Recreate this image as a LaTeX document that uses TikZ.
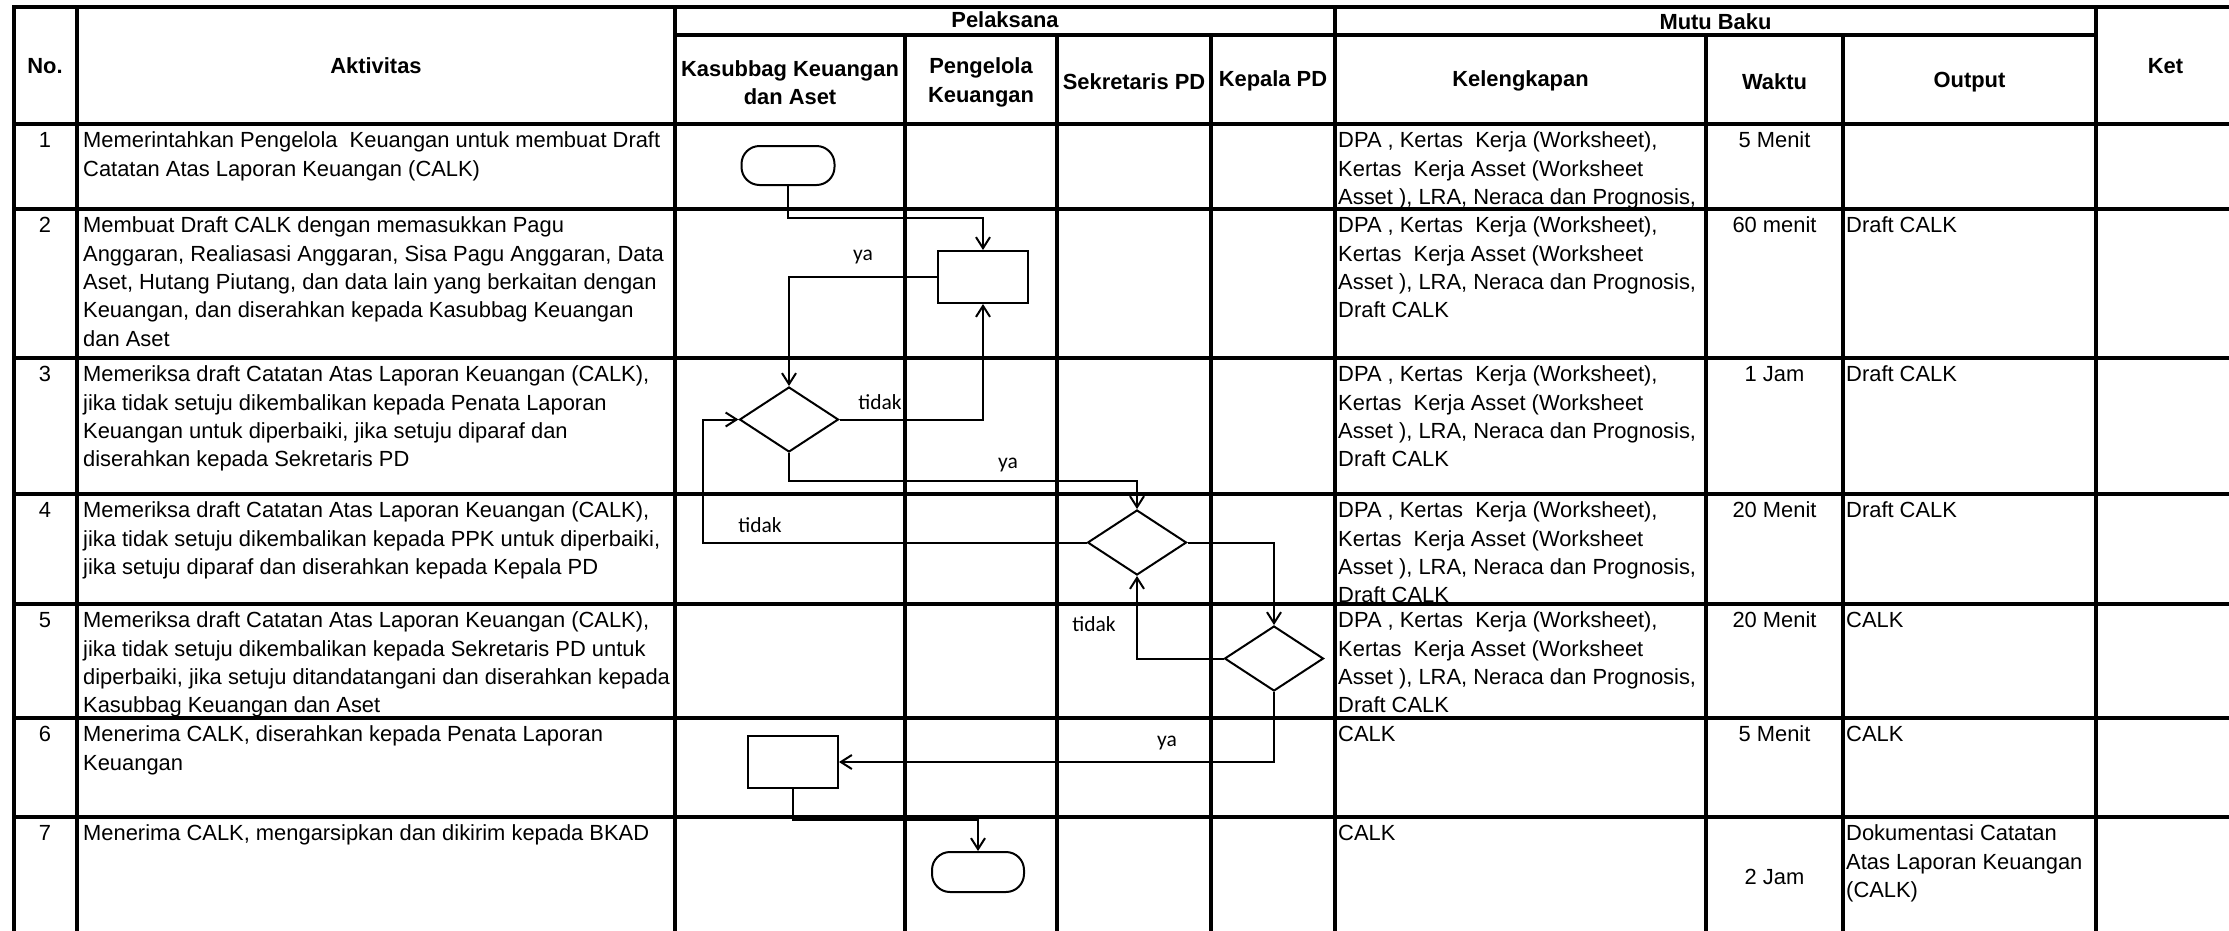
\documentclass[tikz,border=0pt]{standalone}
\usepackage{fontspec}
\setmainfont{Liberation Sans}
\newfontfamily\lblfont{Carlito}
\usetikzlibrary{arrows.meta,shapes.geometric}
\newcommand{\bodyfnt}{\fontsize{21.9}{28.4}\selectfont}
\newcommand{\kelA}{\strut DPA , Kertas\ \ Kerja (Worksheet),\\Kertas\ \ Kerja Asset (Worksheet\\Asset ), LRA, Neraca dan Prognosis,}
\begin{document}
\begin{tikzpicture}[x=1pt,y=-1pt,
  grid/.style={line width=3.4pt, line cap=rect},
  flow/.style={line width=2pt},
  arr/.style={flow,-{Straight Barb[length=11pt,width=14pt]}},
  cell/.style={anchor=north west, inner sep=0pt, align=left, font=\bodyfnt},
  ccell/.style={anchor=base, inner sep=0pt, font=\bodyfnt},
  head/.style={anchor=center, inner sep=0pt, align=center, font=\bodyfnt\bfseries},
  lbl/.style={inner sep=0pt, font=\lblfont\fontsize{21.5}{24}\selectfont},
  term/.style={draw, line width=2pt, rounded corners=18pt, minimum width=93pt, minimum height=39pt, inner sep=0pt},
  proc/.style={draw, line width=2pt, minimum width=90pt, minimum height=52pt, inner sep=0pt},
  dec/.style={draw, diamond, line width=2pt, minimum width=99pt, minimum height=65pt, inner sep=0pt},
]
\useasboundingbox (0,0) rectangle (2229,930);
\fill[white] (0,0) rectangle (2229,930);

% ---- grid ----
\foreach \yy in {7,124,209,358,494,604,718,817}
  \draw[grid] (14,\yy) -- (2229,\yy);
\draw[grid] (675,35) -- (2096,35);
\foreach \xx in {14,77,675,1335,2096}
  \draw[grid] (\xx,7) -- (\xx,930);
\foreach \xx in {905,1057,1211,1706,1843}
  \draw[grid] (\xx,35) -- (\xx,930);

% ---- header ----
\node[head] (hNo) at (45,66) {No.};
\node[head] (hAkt) at (376,66) {Aktivitas};
\node[head] (hPel) at (1005,20) {Pelaksana};
\node[head] (hKas) at (790,82.5) {Kasubbag Keuangan\\dan Aset};
\node[head] (hPen) at (981,82.5) {Pengelola\\Keuangan};
\node[head] (hSek) at (1134,82) {Sekretaris PD};
\node[head] (hKep) at (1273,81) {Kepala PD};
\node[head] (hMut) at (1715.5,21.5) {Mutu Baku};
\node[head] (hKel) at (1520.5,81) {Kelengkapan};
\node[head] (hWak) at (1774.5,82) {Waktu};
\node[head] (hOut) at (1969.5,82) {Output};
\node[head] (hKet) at (2165.5,66) {Ket};

% ---- numbers ----
\node[ccell] (n1) at (45,147.5) {1};
\node[ccell] (n2) at (45,232.5) {2};
\node[ccell] (n3) at (45,381.5) {3};
\node[ccell] (n4) at (45,517.5) {4};
\node[ccell] (n5) at (45,627.5) {5};
\node[ccell] (n6) at (45,741.5) {6};
\node[ccell] (n7) at (45,840.5) {7};

% ---- aktivitas ----
\node[cell] (a1) at (83,127.6) {\strut Memerintahkan Pengelola\ \ Keuangan untuk membuat Draft\\Catatan Atas Laporan Keuangan (CALK)};
\node[cell] (a2) at (83,212.6) {\strut Membuat Draft CALK dengan memasukkan Pagu\\Anggaran, Realiasasi Anggaran, Sisa Pagu Anggaran, Data\\Aset, Hutang Piutang, dan data lain yang berkaitan dengan\\Keuangan, dan diserahkan kepada Kasubbag Keuangan\\dan Aset};
\node[cell] (a3) at (83,361.6) {\strut Memeriksa draft Catatan Atas Laporan Keuangan (CALK),\\jika tidak setuju dikembalikan kepada Penata Laporan\\Keuangan untuk diperbaiki, jika setuju diparaf dan\\diserahkan kepada Sekretaris PD};
\node[cell] (a4) at (83,497.6) {\strut Memeriksa draft Catatan Atas Laporan Keuangan (CALK),\\jika tidak setuju dikembalikan kepada PPK untuk diperbaiki,\\jika setuju diparaf dan diserahkan kepada Kepala PD};
\node[cell] (a5) at (83,607.6) {\strut Memeriksa draft Catatan Atas Laporan Keuangan (CALK),\\jika tidak setuju dikembalikan kepada Sekretaris PD untuk\\diperbaiki, jika setuju ditandatangani dan diserahkan kepada\\Kasubbag Keuangan dan Aset};
\node[cell] (a6) at (83,721.6) {\strut Menerima CALK, diserahkan kepada Penata Laporan\\Keuangan};
\node[cell] (a7) at (83,820.6) {\strut Menerima CALK, mengarsipkan dan dikirim kepada BKAD};

% ---- kelengkapan ----
\node[cell] (k1) at (1338,127.6) {\kelA};
\node[cell] (k2) at (1338,212.6) {\kelA\\Draft CALK};
\node[cell] (k3) at (1338,361.6) {\kelA\\Draft CALK};
\node[cell] (k4) at (1338,497.6) {\kelA\\Draft CALK};
\node[cell] (k5) at (1338,607.6) {\kelA\\Draft CALK};
\node[cell] (k6) at (1338,721.6) {\strut CALK};
\node[cell] (k7) at (1338,820.6) {\strut CALK};

% ---- waktu ----
\node[ccell] (w1) at (1774.5,147.5) {5 Menit};
\node[ccell] (w2) at (1774.5,232.5) {60 menit};
\node[ccell] (w3) at (1774.5,381.5) {1 Jam};
\node[ccell] (w4) at (1774.5,517.5) {20 Menit};
\node[ccell] (w5) at (1774.5,627.5) {20 Menit};
\node[ccell] (w6) at (1774.5,741.5) {5 Menit};
\node[ccell] (w7) at (1774.5,884) {2 Jam};

% ---- output ----
\node[cell] (o2) at (1846,212.6) {\strut Draft CALK};
\node[cell] (o3) at (1846,361.6) {\strut Draft CALK};
\node[cell] (o4) at (1846,497.6) {\strut Draft CALK};
\node[cell] (o5) at (1846,607.6) {\strut CALK};
\node[cell] (o6) at (1846,721.6) {\strut CALK};
\node[cell] (o7) at (1846,820.6) {\strut Dokumentasi Catatan\\Atas Laporan Keuangan\\(CALK)};

% ---- flow shapes ----
\node[term] (t1) at (788,165.5) {};
\node[proc] (r2) at (983,277) {};
\node[dec] (d3) at (789,419.5) {};
\node[dec] (d4) at (1137,542.5) {};
\node[dec] (d5) at (1274,658.5) {};
\node[proc] (r6) at (793,762) {};
\node[term, minimum width=92pt, minimum height=40pt] (t7) at (978,872) {};
\coordinate (loopx) at (703,0);
\coordinate (kb1) at (0,218);
\coordinate (kb2) at (0,481);
\coordinate (kb3) at (0,820);

% ---- connectors ----
\draw[arr] (t1.south) -- (t1.south |- kb1) -| (r2.north);
\draw[arr] (r2.west) -| (d3.north);
\draw[arr] (d3.east) -| (r2.south);
\draw[arr] (d3.south) -- (d3.south |- kb2) -| (d4.north);
\draw[arr] (d4.west) -- (d4.west -| loopx) |- (d3.west);
\draw[arr] (d4.east) -| (d5.north);
\draw[arr] (d5.west) -| (d4.south);
\draw[arr] (d5.south) |- (r6.east);
\draw[arr] (r6.south) -- (r6.south |- kb3) -| (t7.north);

% ---- labels ----
\node[lbl] (ya1) at (863,257) {ya};
\node[lbl] (td1) at (880,402) {tidak};
\node[lbl] (ya2) at (1008,465) {ya};
\node[lbl] (td2) at (760,525) {tidak};
\node[lbl] (td3) at (1094,624) {tidak};
\node[lbl] (ya3) at (1167,743) {ya};
\end{tikzpicture}
\end{document}
